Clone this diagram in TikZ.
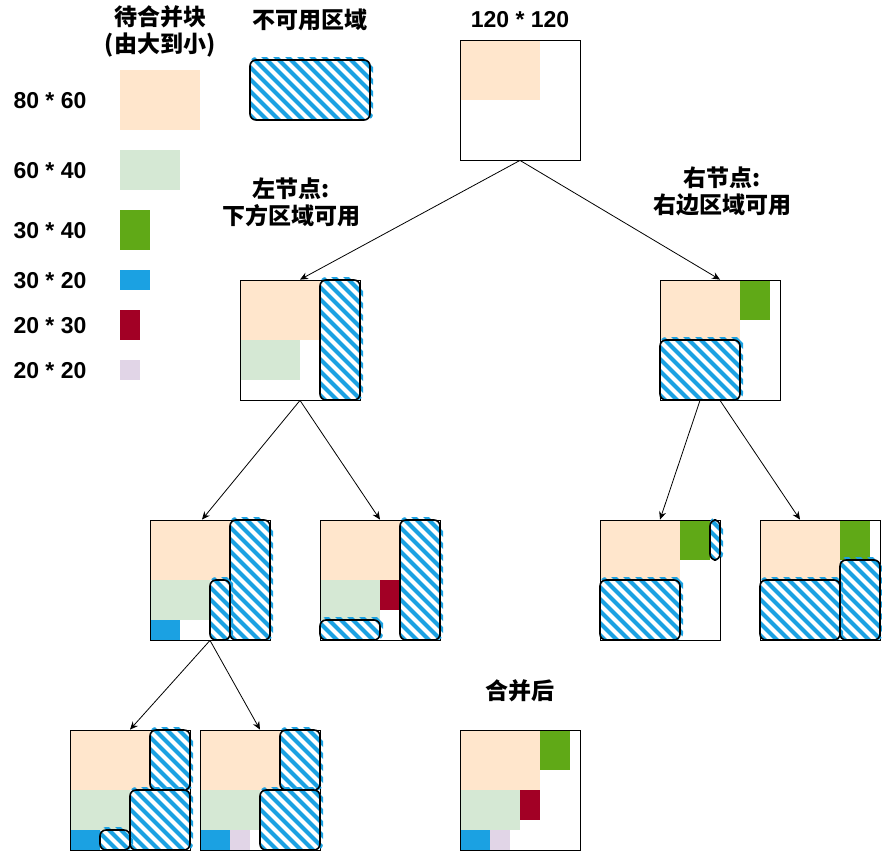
\documentclass[tikz,border=0pt]{standalone}
\usepackage{fontspec}
\setmainfont{Liberation Sans}
\newfontfamily\cjk{Noto Sans CJK SC}
\usepackage{xcolor}
\usetikzlibrary{
		calc,
		arrows.meta,
		backgrounds,
		positioning
	}
\definecolor{peach}{HTML}{FFE6CC}
\definecolor{palegreen}{HTML}{D5E8D4}
\definecolor{leafgreen}{HTML}{60A917}
\definecolor{skyblue}{HTML}{1BA1E2}
\definecolor{crimson}{HTML}{A20025}
\definecolor{lavender}{HTML}{E1D5E7}
\tikzset{
		>={Stealth[length=8pt,width=7pt]},
		board/.style={draw,line width=0.8pt,minimum width=120pt,minimum height=120pt,inner sep=0pt},
		numlbl/.style={font=\fontsize{23}{27}\selectfont\bfseries},
		cjklbl/.style={font=\fontsize{23}{27}\selectfont\cjk\bfseries,align=center},
		hatchstroke/.style={draw=skyblue,line width=4pt},
		blockline/.style={draw=black,line width=1.6pt,rounded corners=6pt}
	}

% hatched area that cannot be used: x1, y1, x2, y2
\newcommand{\unusable}[4]{%
  \begin{scope}
    \clip[rounded corners=6pt] (#1,#2-3) rectangle (#3+3,#4);
    \pgfmathtruncatemacro\hatchlen{#4-#2+10}
    \pgfmathtruncatemacro\hatchend{#3-#1+#4-#2}
    \foreach \s in {5,17,...,\hatchend}
      \draw[hatchstroke] (#1-#4+#2-5+\s,#2-5) -- ++(\hatchlen,\hatchlen);
  \end{scope}
  \draw[blockline] (#1,#2) rectangle (#3,#4);
}

\begin{document}
\begin{tikzpicture}[x=1pt,y=-1pt]
          \useasboundingbox (0,0) rectangle (882,852);

          % legend
          \node[cjklbl] (title) at (160,31) {待合并块\\(由大到小)};
          \node[numlbl] (l8060) at (50,101) {80 * 60};
          \node[numlbl] (l6040) at (50,171) {60 * 40};
          \node[numlbl] (l3040) at (50,231) {30 * 40};
          \node[numlbl] (l3020) at (50,281) {30 * 20};
          \node[numlbl] (l2030) at (50,326) {20 * 30};
          \node[numlbl] (l2020) at (50,371) {20 * 20};
          \fill[peach] (120,70) rectangle (200,130);
          \fill[palegreen] (120,150) rectangle (180,190);
          \fill[leafgreen] (120,210) rectangle (150,250);
          \fill[skyblue] (120,270) rectangle (150,290);
          \fill[crimson] (120,310) rectangle (140,340);
          \fill[lavender] (120,360) rectangle (140,380);

          \node[cjklbl] (blocktitle) at (310,20) {不可用区域};
          \unusable{250}{60}{370}{120}

          % boards
          \node[numlbl] (roottitle) at (520,20) {120 * 120};
          \node[board] (root) at (520,100) {};
          \node[board] (lchild) at (300,340) {};
          \node[board] (rchild) at (720,340) {};
          \node[board] (ll) at (210,580) {};
          \node[board] (lr) at (380,580) {};
          \node[board] (rl) at (660,580) {};
          \node[board] (rr) at (820,580) {};
          \node[board] (lll) at (130,790) {};
          \node[board] (llr) at (260,790) {};
          \node[board] (merged) at (520,790) {};
          \node[cjklbl] (lnote) at (291,202) {左节点:\\下方区域可用};
          \node[cjklbl] (rnote) at (722,191) {右节点:\\右边区域可用};
          \node[cjklbl] (mergedtitle) at (520,691) {合并后};

          \begin{scope}[on background layer]
            % root
            \fill[peach] (460,40) rectangle (540,100);
            % left child
            \fill[peach] (240,280) rectangle (320,340);
            \fill[palegreen] (240,340) rectangle (300,380);
            % right child
            \fill[peach] (660,280) rectangle (740,340);
            \fill[leafgreen] (740,280) rectangle (770,320);
            % ll
            \fill[peach] (150,520) rectangle (230,580);
            \fill[palegreen] (150,580) rectangle (210,620);
            \fill[skyblue] (150,620) rectangle (180,640);
            % lr
            \fill[peach] (320,520) rectangle (400,580);
            \fill[palegreen] (320,580) rectangle (380,620);
            \fill[crimson] (380,580) rectangle (400,610);
            % rl
            \fill[peach] (600,520) rectangle (680,580);
            \fill[leafgreen] (680,520) rectangle (710,560);
            % rr
            \fill[peach] (760,520) rectangle (840,580);
            \fill[leafgreen] (840,520) rectangle (870,560);
            % lll
            \fill[peach] (70,730) rectangle (150,790);
            \fill[palegreen] (70,790) rectangle (130,830);
            \fill[skyblue] (70,830) rectangle (100,850);
            % llr
            \fill[peach] (200,730) rectangle (280,790);
            \fill[palegreen] (200,790) rectangle (260,830);
            \fill[skyblue] (200,830) rectangle (230,850);
            \fill[lavender] (230,830) rectangle (250,850);
            % merged
            \fill[peach] (460,730) rectangle (540,790);
            \fill[leafgreen] (540,730) rectangle (570,770);
            \fill[palegreen] (460,790) rectangle (520,830);
            \fill[crimson] (520,790) rectangle (540,820);
            \fill[skyblue] (460,830) rectangle (490,850);
            \fill[lavender] (490,830) rectangle (510,850);
          \end{scope}

          \unusable{320}{280}{360}{400}
          \unusable{660}{340}{740}{400}
          \unusable{230}{520}{270}{640}
          \unusable{210}{580}{230}{640}
          \unusable{400}{520}{440}{640}
          \unusable{320}{620}{380}{640}
          \unusable{710}{520}{720}{560}
          \unusable{600}{580}{680}{640}
          \unusable{760}{580}{840}{640}
          \unusable{840}{560}{880}{640}
          \unusable{150}{730}{190}{790}
          \unusable{130}{790}{190}{850}
          \unusable{100}{830}{130}{850}
          \unusable{280}{730}{320}{790}
          \unusable{260}{790}{320}{850}

          % arrows
          \draw[->,line width=0.8pt] (root.south) -- (lchild.north);
          \draw[->,line width=0.8pt] (root.south) -- (rchild.north);
          \draw[->,line width=0.8pt] (lchild.south) -- ($(ll.north)+(-8,0)$);
          \draw[->,line width=0.8pt] (lchild.south) -- (lr.north);
          \draw[->,line width=0.8pt] ($(rchild.south)+(-20,0)$) -- (rl.north);
          \draw[->,line width=0.8pt] (rchild.south) -- ($(rr.north)+(-20,0)$);
          \draw[->,line width=0.8pt] (ll.south) -- (lll.north);
          \draw[->,line width=0.8pt] (ll.south) -- (llr.north);
\end{tikzpicture}
\end{document}
